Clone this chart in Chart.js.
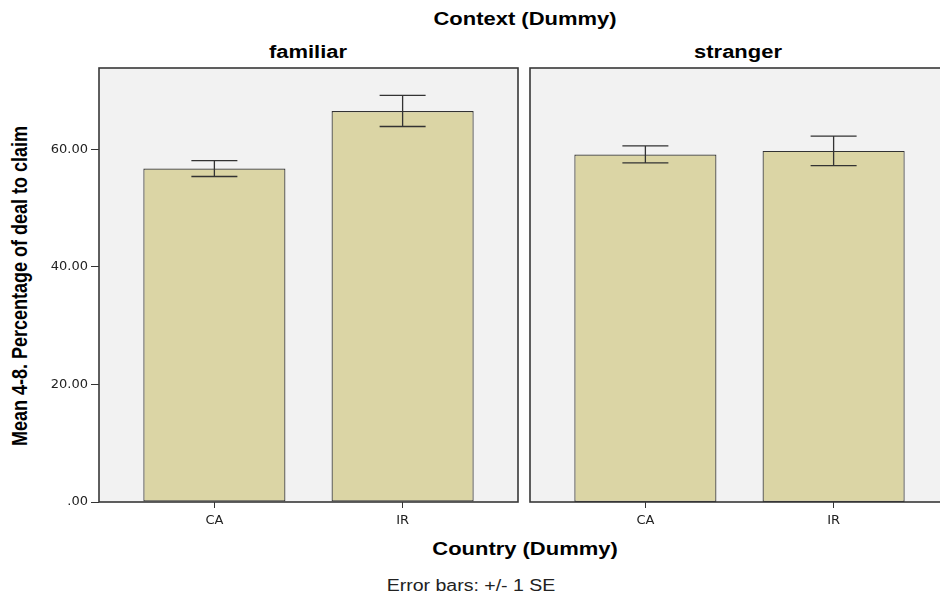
<!DOCTYPE html>
<html>
<head>
<meta charset="utf-8">
<script src="https://cdn.jsdelivr.net/npm/chart.js@4.4.1/dist/chart.umd.min.js"></script>
<style>
  body { margin: 0; width: 940px; height: 601px; overflow: hidden; background: #fff; position: relative;
         font-family: 'Liberation Sans', Arial, sans-serif; }
  .lbl { position: absolute; white-space: nowrap; color: #000; line-height: 1; }
  .wide { transform: translate(-50%, -50%) scaleX(1.22); }
  .bold { font-weight: bold; font-size: 18px; }
  #yTitle { transform: translate(-50%, -50%) rotate(-90deg) scaleY(1.22); font-weight: bold; font-size: 18px; }
  canvas { position: absolute; }
</style>
</head>
<body>
<div class="lbl wide bold" style="left:525px;top:19px">Context (Dummy)</div>
<div class="lbl wide bold" id="t0" style="left:308px;top:52px"></div>
<div class="lbl wide bold" id="t1" style="left:738px;top:52px"></div>
<div class="lbl" id="yTitle" style="left:20px;top:286px">Mean 4-8. Percentage of deal to claim</div>
<div class="lbl wide bold" style="left:525px;top:549px">Country (Dummy)</div>
<div class="lbl wide" style="left:471px;top:586px;font-size:16px;color:#222">Error bars: +/- 1 SE</div>

<div style="position:absolute;left:0;top:60px;width:525px;height:470px"><canvas id="c0"></canvas></div>
<div style="position:absolute;left:525px;top:60px;width:430px;height:470px"><canvas id="c1"></canvas></div>

<script>
// ── data ──
const countries = ['CA', 'IR'];
const contexts = ['familiar', 'stranger'];
const familiarMeans = [56.7, 66.5];
const familiarSE = [1.35, 2.65];
const strangerMeans = [59.1, 59.7];
const strangerSE = [1.45, 2.5];
const yTicks = [0, 20, 40, 60];

const BAR_FILL = '#dbd5a5';
const FRAME = '#383838';

// panel background, error bars and frame
const panelPlugin = {
  id: 'panel',
  beforeDraw(chart) {
    const a = chart.chartArea, ctx = chart.ctx;
    ctx.save();
    ctx.fillStyle = '#f2f2f2';
    ctx.fillRect(a.left, a.top, a.right - a.left, a.bottom - a.top);
    ctx.restore();
  },
  afterDatasetsDraw(chart) {
    const ctx = chart.ctx, a = chart.chartArea;
    const y = chart.scales.y;
    const meta = chart.getDatasetMeta(0);
    const means = chart.data.datasets[0].data.map(d => d.y);
    const se = chart.options.plugins.panel.se;
    ctx.save();
    ctx.strokeStyle = '#333';
    ctx.lineWidth = 1.3;
    meta.data.forEach((bar, i) => {
      const top = y.getPixelForValue(means[i] + se[i]);
      const bot = y.getPixelForValue(means[i] - se[i]);
      ctx.beginPath();
      ctx.moveTo(bar.x, top); ctx.lineTo(bar.x, bot);
      ctx.moveTo(bar.x - 23, top); ctx.lineTo(bar.x + 23, top);
      ctx.moveTo(bar.x - 23, bot); ctx.lineTo(bar.x + 23, bot);
      ctx.stroke();
    });
    ctx.strokeStyle = FRAME;
    ctx.lineWidth = 1.6;
    ctx.strokeRect(a.left, a.top, a.right - a.left, a.bottom - a.top);
    ctx.restore();
  }
};

function makePanel(id, means, se, showY, padding) {
  return new Chart(document.getElementById(id), {
    type: 'bar',
    data: {
      datasets: [{
        data: means.map((m, i) => ({ x: i, y: m })),
        backgroundColor: BAR_FILL,
        borderColor: '#333',
        borderWidth: 1.2,
        borderSkipped: false,
        barPercentage: 0.755,
        categoryPercentage: 1
      }]
    },
    options: {
      responsive: true,
      maintainAspectRatio: false,
      animation: false,
      layout: { padding },
      plugins: { legend: { display: false }, tooltip: { enabled: false }, panel: { se } },
      scales: {
        x: {
          type: 'linear',
          min: -0.613, max: 1.613,
          offset: false,
          afterBuildTicks: ax => { ax.ticks = countries.map((c, i) => ({ value: i })); },
          afterFit: ax => { ax.height = 28; ax.paddingLeft = 0; ax.paddingRight = 0; },
          ticks: {
            callback: v => countries[v],
            color: '#222',
            font: { family: 'DejaVu Sans', size: 13 },
            padding: 5,
            maxRotation: 0
          },
          grid: { drawOnChartArea: false, offset: false, color: '#333', tickLength: 6 },
          border: { display: false }
        },
        y: {
          display: showY,
          min: 0, max: 73.8,
          afterBuildTicks: ax => { ax.ticks = yTicks.map(v => ({ value: v })); },
          afterFit: ax => { ax.width = showY ? 99 : 0; ax.paddingTop = 0; ax.paddingBottom = 0; },
          ticks: {
            callback: v => v === 0 ? '.00' : v.toFixed(2),
            color: '#222',
            font: { family: 'DejaVu Sans', size: 13 },
            padding: 3
          },
          grid: { drawOnChartArea: false, color: '#333', tickLength: 8 },
          border: { display: false }
        }
      }
    },
    plugins: [panelPlugin]
  });
}

document.getElementById('t0').textContent = contexts[0];
document.getElementById('t1').textContent = contexts[1];
makePanel('c0', familiarMeans, familiarSE, true, { top: 8, right: 7, bottom: 0, left: 0 });
makePanel('c1', strangerMeans, strangerSE, false, { top: 8, right: 6, bottom: 0, left: 5 });
</script>
</body>
</html>
